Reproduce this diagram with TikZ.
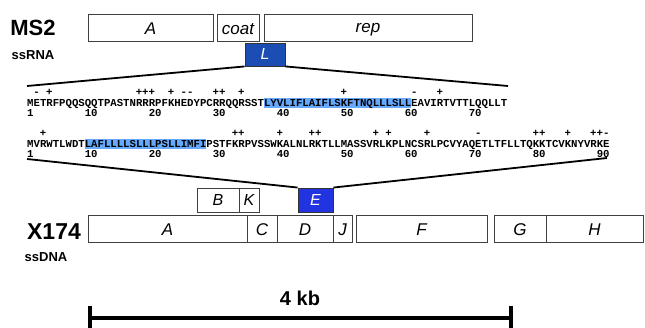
\documentclass[tikz,border=0pt]{standalone}
\usepackage{fontspec}
\setmainfont{Liberation Sans}
\newfontfamily\seqfont{Liberation Mono}
\definecolor{Lblue}{HTML}{1C4DB3}
\definecolor{Eblue}{HTML}{2233E0}
\definecolor{hl}{HTML}{66AAFF}
\begin{document}
\begin{tikzpicture}[x=1pt,y=-1pt,
  gene/.style={draw=black!75, line width=0.9pt, inner sep=0pt, text height=13.5pt, text depth=0pt, font=\fontsize{17}{17}\selectfont\itshape},
  hgene/.style={gene, minimum height=27pt},
  small/.style={gene, minimum height=24pt, text height=11pt, font=\fontsize{16}{16}\selectfont\itshape},
  bluebox/.style={small, text=white, draw=black!80},
  conn/.style={line width=1.8pt, black},
  seqtxt/.style={inner sep=0pt, anchor=base west, text height=6.5pt, text depth=0pt, font=\fontsize{10.667}{12}\selectfont\seqfont\bfseries},
  numtxt/.style={inner sep=0pt, anchor=base west, text height=6.5pt, text depth=0pt, font=\fontsize{10.667}{12}\selectfont\seqfont\bfseries},
  chg/.style={inner sep=0pt, anchor=base, text height=5pt, text depth=0pt, font=\fontsize{10.667}{12}\selectfont\seqfont\bfseries},
  title/.style={inner sep=0pt, font=\fontsize{22}{22}\selectfont\bfseries},
  sub/.style={inner sep=0pt, font=\fontsize{13}{13}\selectfont\bfseries}
]
\useasboundingbox (0,0) rectangle (645,328);
\def\cw{6.4}
% labels
\node[title] (ms2) at (33,28) {MS2};
\node[sub] (ssrna) at (33,55) {ssRNA};
\node[title, font=\fontsize{23}{23}\selectfont\bfseries] (x174) at (54,232) {X174};
\node[sub] (ssdna) at (46,257) {ssDNA};
% MS2 genes
\node[hgene, minimum width=125pt] (mA) at (150.5,27.5) {A};
\node[hgene, minimum width=42pt] (mcoat) at (238,27.5) {coat};
\node[hgene, minimum width=208pt, text height=12pt, text depth=2pt] (mrep) at (368,27.5) {rep};
\node[bluebox, fill=Lblue, minimum width=40pt, minimum height=23pt] (L) at (265,54.5) {L};
% highlights
\fill[hl] (27+37*\cw,98) rectangle (27+60*\cw,108);
\fill[hl] (27+9*\cw,139) rectangle (27+28*\cw,149);
% sequence 1
\node[seqtxt] (seq1) at (27,106.5) {METRFPQQSQQTPASTNRRRPFKHEDYPCRRQQRSSTLYVLIFLAIFLSKFTNQLLLSLLEAVIRTVTTLQQLLT};
\foreach \n in {1,10,20,30,40,50,60,70} \node[numtxt] (n1-\n) at (27+\n*\cw-\cw,116.5) {\n};
\foreach \c/\s in {2/-,4/+,18/+,19/+,20/+,23/+,25/-,26/-,30/+,31/+,34/+,50/+,61/-,65/+}
  \node[chg] (c1-\c) at (27+\c*\cw-0.5*\cw,95.5) {\s};
% sequence 2
\node[seqtxt] (seq2) at (27,147.5) {MVRWTLWDTLAFLLLLSLLLPSLLIMFIPSTFKRPVSSWKALNLRKTLLMASSVRLKPLNCSRLPCVYAQETLTFLLTQKKTCVKNYVRKE};
\foreach \n in {1,10,20,30,40,50,60,70,80,90} \node[numtxt] (n2-\n) at (27+\n*\cw-\cw,157.5) {\n};
\foreach \c/\s in {3/+,33/+,34/+,40/+,45/+,46/+,55/+,57/+,63/+,71/-,80/+,81/+,85/+,89/+,90/+,91/-}
  \node[chg] (c2-\c) at (27+\c*\cw-0.5*\cw,136.5) {\s};
% connectors for L
\coordinate (s1L) at (27,86);
\coordinate (s1R) at (508,86);
\draw[conn] (s1L) -- (L.south west);
\draw[conn] (L.south east) -- (s1R);
% phiX174 small genes
\node[small, minimum width=42pt] (xB) at (218,200) {B};
\node[small, minimum width=20pt] (xK) at (249,200) {K};
\node[bluebox, fill=Eblue, minimum width=35pt] (E) at (315.5,200) {E};
\coordinate (s2L) at (27,159);
\coordinate (s2R) at (607,158);
\draw[conn] (s2L) -- (E.north west);
\draw[conn] (E.north east) -- (s2R);
% phiX174 main genes
\node[hgene, minimum width=159pt] (xA) at (167.5,228.5) {A};
\node[hgene, minimum width=30pt] (xC) at (262,228.5) {C};
\node[hgene, minimum width=56pt] (xD) at (305,228.5) {D};
\node[hgene, minimum width=19pt] (xJ) at (342.5,228.5) {J};
\node[hgene, minimum width=131pt] (xF) at (421.5,228.5) {F};
\node[hgene, minimum width=52pt] (xG) at (520,228.5) {G};
\node[hgene, minimum width=97pt] (xH) at (594.5,228.5) {H};
% scale bar
\node[inner sep=0pt, font=\fontsize{20}{20}\selectfont\bfseries] (kb) at (300,298) {4 kb};
\coordinate (sbL) at (90,318);
\coordinate (sbR) at (511,318);
\draw[line width=4.5pt] (sbL) -- (sbR);
\draw[line width=4pt] (sbL) ++(0,-12) -- ++(0,22);
\draw[line width=4pt] (sbR) ++(0,-12) -- ++(0,22);
\end{tikzpicture}
\end{document}
